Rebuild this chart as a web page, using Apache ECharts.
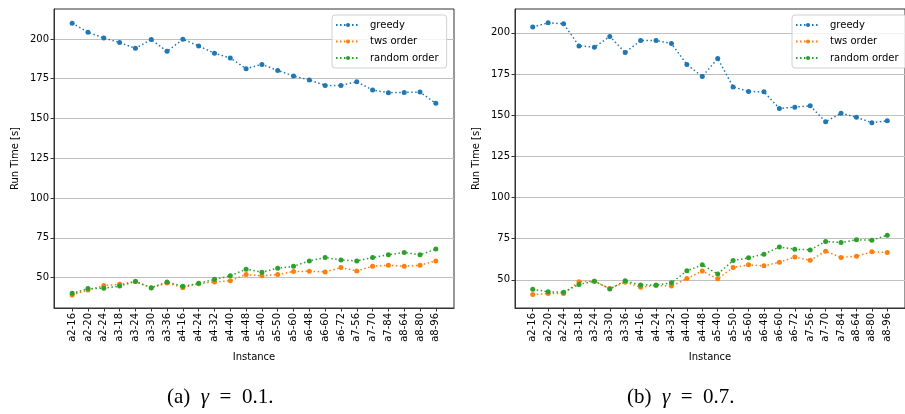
<!DOCTYPE html>
<html>
<head>
<meta charset="utf-8">
<script src="https://cdn.jsdelivr.net/npm/echarts@6/dist/echarts.min.js"></script>
<style>
html,body{margin:0;padding:0;background:#fff;}
#c{width:905px;height:414px;}
</style>
</head>
<body>
<div id="c"></div>
<script>
const categories = ['a2-16','a2-20','a2-24','a3-18','a3-24','a3-30','a3-36','a4-16','a4-24','a4-32','a4-40','a4-48','a5-40','a5-50','a5-60','a6-48','a6-60','a6-72','a7-56','a7-70','a7-84','a8-64','a8-80','a8-96'];

const greedyA = [209.9,204.2,200.6,197.7,194.1,199.6,192.2,199.8,195.6,191.0,188.0,181.3,184.0,180.2,176.7,174.2,170.8,170.8,173.1,167.9,166.2,166.4,166.6,159.5];
const twsA    = [39.1,42.2,45.0,45.8,47.7,43.5,46.6,43.7,46.2,47.3,48.1,51.9,51.1,51.9,53.8,54.0,53.6,56.3,54.2,57.1,57.8,57.1,57.8,60.5];
const randomA = [40.1,43.1,43.3,44.7,47.5,43.7,47.3,44.5,46.4,48.9,51.1,55.3,53.4,55.9,57.1,60.5,62.6,61.1,60.5,62.6,64.3,65.8,64.3,67.9];

const greedyB = [203.6,206.1,205.5,192.1,191.3,197.8,188.1,195.3,195.3,193.5,180.8,173.5,184.4,167.2,164.4,164.2,154.1,154.9,155.7,146.0,151.2,148.8,145.4,146.6];
const twsB    = [41.1,41.7,41.7,48.8,49.2,44.7,48.6,45.5,46.6,46.2,50.8,55.3,50.6,57.5,59.1,58.5,60.7,63.8,61.9,67.4,63.6,64.4,67.0,66.6];
const randomB = [44.3,42.7,42.5,47.2,49.2,44.5,49.4,46.8,46.8,48.2,55.5,59.1,53.6,61.7,63.4,65.6,70.0,68.6,68.2,73.3,72.7,74.3,74.1,77.1];

const yTicks = [50,75,100,125,150,175,200];
const seriesNames = ['greedy','tws order','random order'];
const colors = ['#1f77b4','#ff7f0e','#2ca02c'];

const xIdx = categories.map((_, i) => i);
const font = 'DejaVu Sans';
const axisColor = '#333';

function xAxis(gi) {
  return {
    type: 'value', gridIndex: gi, min: -1.15, max: categories.length - 1 + 1.15,
    name: 'Instance', nameLocation: 'middle', nameGap: 44,
    nameTextStyle: {fontFamily: font, fontSize: 10, color: '#000'},
    axisLine: {show: true, onZero: false, lineStyle: {color: axisColor, width: 1}},
    axisTick: {show: true, length: 3.5, customValues: xIdx, lineStyle: {color: axisColor, width: 1}},
    axisLabel: {show: true, rotate: 90, customValues: xIdx, margin: 5, fontFamily: font, fontSize: 10, color: '#000',
      formatter: v => categories[Math.round(v)] || ''},
    splitLine: {show: false}
  };
}
function yAxis(gi, min, max) {
  return {
    type: 'value', gridIndex: gi, min: min, max: max,
    name: 'Run Time [s]', nameLocation: 'middle', nameGap: 34, nameRotate: 90,
    nameTextStyle: {fontFamily: font, fontSize: 10, color: '#000'},
    axisLine: {show: true, onZero: false, lineStyle: {color: axisColor, width: 1}},
    axisTick: {show: true, length: 3.5, customValues: yTicks, lineStyle: {color: axisColor, width: 1}},
    axisLabel: {show: true, customValues: yTicks, margin: 5, fontFamily: font, fontSize: 10, color: '#000'},
    splitLine: {show: true, lineStyle: {color: '#c0c0c0', width: 1}}
  };
}
function mkSeries(gi, name, data, ci) {
  return {
    type: 'line', name: name, xAxisIndex: gi, yAxisIndex: gi,
    data: data.map((v, i) => [i, v]),
    symbol: 'circle', symbolSize: 5, showSymbol: true,
    lineStyle: {color: colors[ci], width: 1.5, type: [1.5, 2.5]},
    itemStyle: {color: colors[ci]},
    animation: false, z: 2 + ci
  };
}
function legend(left) {
  return {
    data: seriesNames, orient: 'vertical', left: left, top: 15,
    backgroundColor: 'rgba(255,255,255,0.8)', borderColor: '#d0d0d0', borderWidth: 1, borderRadius: 3,
    padding: [5, 8, 5, 3], itemWidth: 24, itemHeight: 5, itemGap: 6.5,
    itemStyle: {borderWidth: 0},
    textStyle: {fontFamily: font, fontSize: 10, color: '#000', padding: [0, 0, 0, 5]},
    selectedMode: false
  };
}
function caption(cx, label, val) {
  return {
    type: 'text', left: cx - 61, top: 387,
    style: {
      text: '{a|(' + label + ')  }{g|γ}{a|  =  ' + val + '.}',
      rich: {
        a: {fontFamily: 'Liberation Serif', fontSize: 21, fill: '#000'},
        g: {fontFamily: 'Liberation Serif', fontStyle: 'italic', fontSize: 21, fill: '#000'}
      }
    }
  };
}

const chart = echarts.init(document.getElementById('c'), null, {renderer: 'canvas'});
chart.setOption({
  backgroundColor: '#fff',
  animation: false,
  grid: [
    {left: 54, top: 9, width: 400, height: 299, show: true, borderColor: axisColor, borderWidth: 1, backgroundColor: 'transparent'},
    {left: 515, top: 9, width: 400, height: 299, show: true, borderColor: axisColor, borderWidth: 1, backgroundColor: 'transparent'}
  ],
  xAxis: [xAxis(0), xAxis(1)],
  yAxis: [yAxis(0, 30.9, 218.8), yAxis(1, 32.9, 214.5)],
  legend: [legend(332), legend(792)],
  series: [
    mkSeries(0, seriesNames[0], greedyA, 0),
    mkSeries(0, seriesNames[1], twsA, 1),
    mkSeries(0, seriesNames[2], randomA, 2),
    mkSeries(1, seriesNames[0], greedyB, 0),
    mkSeries(1, seriesNames[1], twsB, 1),
    mkSeries(1, seriesNames[2], randomB, 2)
  ],
  graphic: [caption(228, 'a', '0.1'), caption(688, 'b', '0.7')]
});
</script>
</body>
</html>
